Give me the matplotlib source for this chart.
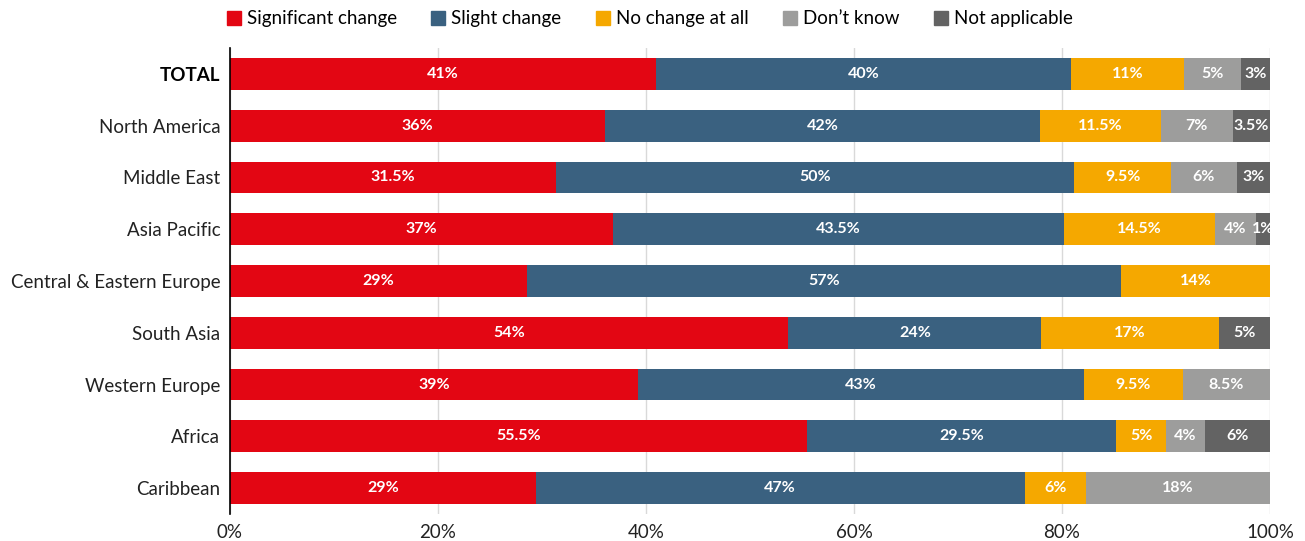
import numpy as np
import matplotlib.pyplot as plt
from matplotlib.lines import Line2D

plt.rcParams['font.family'] = ['Lato', 'DejaVu Sans']

regions = ['TOTAL', 'North America', 'Middle East', 'Asia Pacific',
           'Central & Eastern Europe', 'South Asia', 'Western Europe',
           'Africa', 'Caribbean']
series = ['Significant change', 'Slight change', 'No change at all',
          "Don\u2019t know", 'Not applicable']
colors = ['#E30613', '#3A6180', '#F5A800', '#9D9D9C', '#636363']

# bar lengths (percent)
significant = [41.0, 36.1, 31.3, 36.8, 28.6, 53.7, 39.2, 55.5, 29.4]
slight = [39.9, 41.8, 49.9, 43.4, 57.1, 24.3, 42.9, 29.7, 47.0]
no_change = [10.8, 11.6, 9.3, 14.5, 14.3, 17.1, 9.5, 4.8, 5.9]
dont_know = [5.5, 6.9, 6.3, 3.95, 0, 0, 8.4, 3.75, 17.7]
not_appl = [2.8, 3.6, 3.2, 1.35, 0, 4.9, 0, 6.25, 0]

# printed labels
lab_significant = ['41%', '36%', '31.5%', '37%', '29%', '54%', '39%', '55.5%', '29%']
lab_slight = ['40%', '42%', '50%', '43.5%', '57%', '24%', '43%', '29.5%', '47%']
lab_no_change = ['11%', '11.5%', '9.5%', '14.5%', '14%', '17%', '9.5%', '5%', '6%']
lab_dont_know = ['5%', '7%', '6%', '4%', '', '', '8.5%', '4%', '18%']
lab_not_appl = ['3%', '3.5%', '3%', '1%', '', '5%', '', '6%', '']

values = [significant, slight, no_change, dont_know, not_appl]
labels = [lab_significant, lab_slight, lab_no_change, lab_dont_know, lab_not_appl]

fig = plt.figure(figsize=(13.05, 5.41), dpi=100)
ax = fig.add_axes([230/1305, 1-514/541, 1040/1305, 466/541])

y = np.arange(len(regions))
left = np.zeros(len(regions))
for vals, labs, col, name in zip(values, labels, colors, series):
    vals = np.array(vals)
    ax.barh(y, vals, left=left, height=0.615, color=col, label=name, zorder=2)
    for i in range(len(regions)):
        if labs[i]:
            ax.text(left[i] + vals[i]/2, y[i], labs[i], ha='center', va='center',
                    color='white', fontsize=11.5, fontweight='bold', zorder=3)
    left += vals

ax.set_xlim(0, 100)
ax.set_ylim(len(regions) - 0.5, -0.5)
ax.set_yticks(y)
ax.set_yticklabels(regions, fontsize=13.5, color='#222222')
ax.get_yticklabels()[0].set_fontweight('bold')
ax.get_yticklabels()[0].set_color('black')
ax.set_xticks([0, 20, 40, 60, 80, 100])
ax.set_xticklabels(['0%', '20%', '40%', '60%', '80%', '100%'], fontsize=13.5, color='#222222')
ax.tick_params(axis='both', length=0, pad=7)
ax.xaxis.grid(True, color='#D9D9D9', linewidth=1, zorder=0)
ax.set_axisbelow(True)
for s in ['top', 'right', 'bottom']:
    ax.spines[s].set_visible(False)
ax.spines['left'].set_color('black')
ax.spines['left'].set_linewidth(1.2)
ax.spines['left'].set_zorder(4)

handles = [Line2D([0], [0], marker='s', linestyle='', markersize=9.5,
                  markerfacecolor=c, markeredgecolor=c) for c in colors]
fig.legend(handles, series, loc='upper center', bbox_to_anchor=(0.497, 1.012),
           ncol=5, frameon=False, fontsize=13.5, handletextpad=0.2,
           columnspacing=1.7, handlelength=1.0)

fig.savefig('out.png', dpi=100)
